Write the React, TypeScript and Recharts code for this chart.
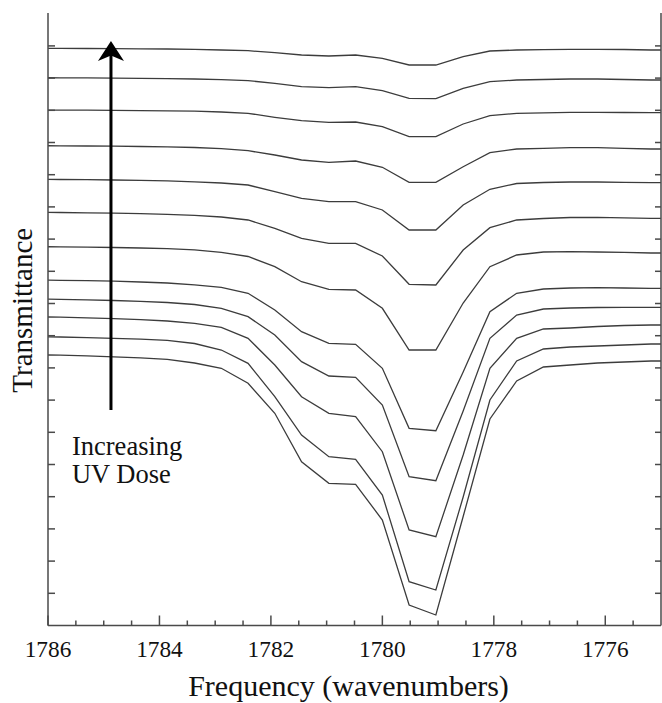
import React from 'react';
import { LineChart, Line, XAxis, YAxis, ReferenceLine, ReferenceDot, Label } from 'recharts';

// Frequency grid (wavenumbers)
const FREQ = [1786.27, 1785.78, 1785.30, 1784.82, 1784.34, 1783.86, 1783.37, 1782.89, 1782.41, 1781.93, 1781.45, 1780.96, 1780.48, 1780.00, 1779.52, 1779.04, 1778.55, 1778.07, 1777.59, 1777.11, 1776.63, 1776.14, 1775.66, 1775.18, 1774.70];

// Offset transmittance traces (arbitrary units), top trace = highest UV dose
const T1 = [577.2, 577.1, 577.0, 576.9, 576.7, 576.5, 576.2, 575.5, 574.8, 572.8, 570.5, 569.5, 570.5, 567.2, 560.5, 560.5, 568.8, 574.5, 575.5, 575.8, 576.2, 576.2, 576.0, 575.5, 575.5];
const T2 = [547.8, 547.7, 547.6, 547.4, 547.2, 546.9, 546.5, 545.8, 544.8, 542.2, 538.8, 537.8, 538.8, 534.8, 527.2, 526.8, 537.2, 543.8, 545.5, 546.0, 546.5, 546.5, 546.0, 545.5, 545.5];
const T3 = [515.5, 515.4, 515.3, 515.1, 514.9, 514.7, 514.3, 513.5, 512.2, 508.2, 504.8, 503.2, 503.5, 498.8, 488.8, 488.8, 501.5, 509.8, 512.2, 512.7, 513.2, 513.2, 513.0, 512.8, 512.8];
const T4 = [479.8, 479.7, 479.5, 479.3, 479.0, 478.6, 478.0, 476.8, 474.8, 470.5, 465.5, 463.2, 464.5, 458.2, 443.2, 443.2, 458.8, 472.8, 476.5, 477.2, 477.8, 477.8, 477.2, 476.5, 476.5];
const T5 = [446.2, 446.0, 445.8, 445.5, 445.1, 444.6, 443.7, 442.5, 440.5, 433.8, 427.2, 423.8, 423.8, 415.5, 395.5, 395.5, 420.5, 436.2, 442.0, 443.0, 443.5, 443.5, 443.2, 442.8, 442.8];
const T6 = [413.2, 413.0, 412.7, 412.3, 411.8, 411.2, 410.2, 408.5, 405.5, 397.2, 387.2, 382.2, 382.2, 369.5, 341.2, 340.5, 375.5, 397.8, 405.5, 407.0, 408.0, 408.2, 407.7, 407.2, 407.2];
const T7 = [378.8, 378.7, 378.4, 378.0, 377.5, 376.9, 375.7, 373.2, 369.0, 358.8, 343.8, 336.2, 335.5, 317.2, 275.5, 275.5, 322.5, 358.8, 370.5, 373.5, 373.8, 373.5, 373.2, 372.5, 372.5];
const T8 = [345.5, 345.2, 344.8, 344.3, 343.5, 342.5, 340.7, 338.2, 332.2, 315.5, 293.8, 282.2, 281.2, 257.2, 197.2, 194.8, 253.5, 313.8, 332.2, 336.5, 337.5, 337.8, 337.5, 337.2, 337.2];
const T9 = [326.5, 326.1, 325.6, 325.0, 324.1, 323.0, 321.0, 317.2, 308.8, 290.5, 263.8, 249.5, 248.2, 220.5, 148.8, 144.8, 214.5, 287.2, 310.5, 316.5, 317.5, 318.0, 318.2, 318.2, 318.2];
const T10 = [308.8, 308.3, 307.7, 306.9, 305.9, 304.5, 302.2, 298.2, 287.2, 260.5, 228.8, 212.2, 208.8, 173.8, 95.5, 88.8, 170.5, 257.2, 287.2, 296.5, 297.5, 299.0, 300.0, 300.5, 300.5];
const T11 = [289.0, 288.5, 287.9, 287.2, 286.3, 285.2, 282.0, 275.5, 262.2, 228.8, 190.5, 168.8, 166.2, 130.5, 43.8, 35.5, 128.5, 225.5, 264.5, 276.5, 278.5, 279.5, 280.5, 281.5, 281.5];
const T12 = [270.8, 270.3, 269.6, 268.7, 267.7, 266.2, 262.5, 257.2, 242.2, 212.2, 163.8, 142.2, 141.2, 105.5, 20.5, 10.5, 109.0, 206.5, 244.5, 258.5, 260.5, 262.5, 263.5, 264.5, 264.5];

const SERIES = [T1, T2, T3, T4, T5, T6, T7, T8, T9, T10, T11, T12];

const X_TICKS = [1786, 1785.5, 1785, 1784.5, 1784, 1783.5, 1783, 1782.5, 1782, 1781.5, 1781, 1780.5, 1780, 1779.5, 1779, 1778.5, 1778, 1777.5, 1777, 1776.5, 1776, 1775.5];
const Y_TICKS = [32.2, 64.4, 96.6, 128.8, 161, 193.2, 225.4, 257.6, 289.8, 322, 354.2, 386.4, 418.6, 450.8, 483, 515.2, 547.4, 579.6];

const X_DOMAIN = [1775, 1786];
const Y_DOMAIN = [0, 612.5];

const ARROW = [
  { x: 1784.87, y: 215.5 },
  { x: 1784.87, y: 584.5 },
];
const NOTE_POS = { x: 1785.57, y: 170.5 };
const NOTE_LINES = ['Increasing', 'UV Dose'];

const data = FREQ.map((f, i) => {
  const row: Record<string, number> = { f };
  SERIES.forEach((s, j) => {
    row['t' + (j + 1)] = s[i];
  });
  return row;
});

const FONT = '"Liberation Serif", "Times New Roman", Times, serif';
const AXIS = '#4a4a4a';
const INK = '#111';
const LINE = '#3c3c3c';

const isMajor = (v: number) => Math.abs(v % 2) < 1e-6;

function BottomTick(props: any) {
  const { x, y, payload } = props;
  const major = isMajor(payload.value);
  return (
    <g>
      <line x1={x} y1={y} x2={x} y2={y - (major ? 10 : 5)} stroke={AXIS} strokeWidth={1.5} />
      {major && (
        <text x={x} y={y + 31.5} textAnchor="middle" fontFamily={FONT} fontSize={23.3} fill={INK}>
          {payload.value}
        </text>
      )}
    </g>
  );
}

function TopTick(props: any) {
  const { x, y, payload } = props;
  const major = isMajor(payload.value);
  return <line x1={x} y1={y} x2={x} y2={y + (major ? 10 : 5)} stroke={AXIS} strokeWidth={1.5} />;
}

function LeftTick(props: any) {
  const { x, y } = props;
  return <line x1={x} y1={y} x2={x + 7} y2={y} stroke={AXIS} strokeWidth={1.5} />;
}

function RightTick(props: any) {
  const { x, y } = props;
  return <line x1={x} y1={y} x2={x - 6} y2={y} stroke={AXIS} strokeWidth={1.5} />;
}

function ArrowShape(props: any) {
  const { x1, y1, x2, y2 } = props;
  const cx = x2;
  const tip = Math.min(y1, y2);
  const base = Math.max(y1, y2);
  return (
    <g>
      <line x1={cx} y1={base} x2={cx} y2={tip + 12} stroke="#000" strokeWidth={3} />
      <path
        d={`M${cx},${tip} L${cx + 13},${tip + 20} L${cx},${tip + 14.5} L${cx - 13},${tip + 20} Z`}
        fill="#000"
      />
    </g>
  );
}

function NoteShape(props: any) {
  const { cx, cy } = props;
  return (
    <text x={cx} y={cy} fontFamily={FONT} fontSize={26.5} fill={INK}>
      <tspan x={cx}>{NOTE_LINES[0]}</tspan>
      <tspan x={cx} dy={27.7}>{NOTE_LINES[1]}</tspan>
    </text>
  );
}

export default function App() {
  return (
    <div style={{ position: 'absolute', left: 0, top: 0, width: 662, height: 703, background: '#fff' }}>
      <LineChart
        width={662}
        height={703}
        data={data}
        margin={{ top: 13, right: 0, bottom: 0, left: 0 }}
      >
        <XAxis
          dataKey="f"
          type="number"
          domain={X_DOMAIN}
          allowDataOverflow
          reversed
          ticks={X_TICKS}
          interval={0}
          tickSize={0}
          tickMargin={0}
          tickLine={false}
          tick={<BottomTick />}
          height={77.5}
          axisLine={{ stroke: AXIS, strokeWidth: 1.5 }}
        >
          <Label
            content={(p: any) => {
              const vb = p.viewBox || { x: 48, y: 625.5, width: 613 };
              return (
                <text
                  x={vb.x + vb.width / 2 - 6}
                  y={vb.y + 70.5}
                  textAnchor="middle"
                  fontFamily={FONT}
                  fontSize={30}
                  fill={INK}
                >
                  Frequency (wavenumbers)
                </text>
              );
            }}
          />
        </XAxis>
        <XAxis
          xAxisId="top"
          dataKey="f"
          type="number"
          orientation="top"
          domain={X_DOMAIN}
          allowDataOverflow
          reversed
          ticks={X_TICKS}
          interval={0}
          tickSize={0}
          tickMargin={0}
          tickLine={false}
          tick={<TopTick />}
          height={0}
          axisLine={{ stroke: AXIS, strokeWidth: 1.5 }}
        />
        <YAxis
          type="number"
          domain={Y_DOMAIN}
          allowDataOverflow
          ticks={Y_TICKS}
          interval={0}
          tickSize={0}
          tickMargin={0}
          tickLine={false}
          tick={<LeftTick />}
          width={48}
          axisLine={{ stroke: AXIS, strokeWidth: 1.5 }}
        >
          <Label
            content={(p: any) => {
              const vb = p.viewBox || { x: 0, y: 13, height: 612.5 };
              const cx = vb.x + 32;
              const cy = vb.y + vb.height / 2 - 9;
              return (
                <text
                  x={cx}
                  y={cy}
                  textAnchor="middle"
                  transform={`rotate(-90 ${cx} ${cy})`}
                  fontFamily={FONT}
                  fontSize={29}
                  fill={INK}
                >
                  Transmittance
                </text>
              );
            }}
          />
        </YAxis>
        <YAxis
          yAxisId="right"
          orientation="right"
          type="number"
          domain={Y_DOMAIN}
          allowDataOverflow
          ticks={Y_TICKS}
          interval={0}
          tickSize={0}
          tickMargin={0}
          tickLine={false}
          tick={<RightTick />}
          width={1}
          axisLine={{ stroke: AXIS, strokeWidth: 1.5 }}
        />
        {SERIES.map((_, j) => (
          <Line
            key={j}
            type="linear"
            dataKey={'t' + (j + 1)}
            stroke={LINE}
            strokeWidth={1.3}
            dot={false}
            activeDot={false}
            isAnimationActive={false}
          />
        ))}
        <ReferenceLine segment={ARROW} shape={<ArrowShape />} />
        <ReferenceDot x={NOTE_POS.x} y={NOTE_POS.y} r={0} shape={<NoteShape />} />
      </LineChart>
    </div>
  );
}
